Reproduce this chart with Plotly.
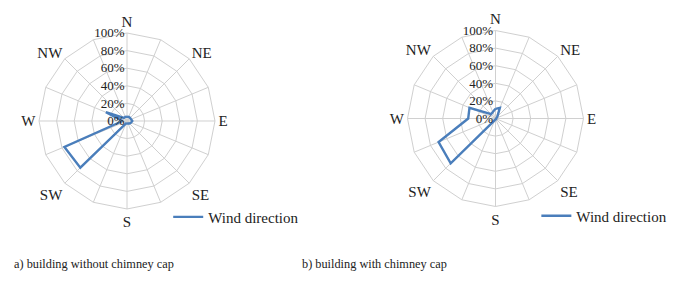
import plotly.graph_objects as go

directions = ["N", "NNE", "NE", "ENE", "E", "ESE", "SE", "SSE",
              "S", "SSW", "SW", "WSW", "W", "WNW", "NW", "NNW"]
tick_labels = ["N", "", "NE", "", "E", "", "SE", "",
               "S", "", "SW", "", "W", "", "NW", ""]
without_cap = [5, 5, 5, 5, 6, 5, 4, 3, 3, 3, 75, 77, 5, 26, 5, 5]
with_cap = [11, 13, 3, 1, 1, 1, 1, 1, 1, 2, 72, 70, 31, 32, 7, 8]
radial_ticks = [0, 20, 40, 60, 80, 100]
radial_labels = ["0%", "20%", "40%", "60%", "80%", "100%"]
captions = ["a) building without chimney cap", "b) building with chimney cap"]
series_name = "Wind direction"

FONT = "Liberation Serif, Times New Roman, serif"
LINE = "#4a7ebb"
GRID = "#d0d0d0"

fig = go.Figure()
for i, vals in enumerate([without_cap, with_cap]):
    fig.add_trace(go.Scatterpolar(
        r=vals + vals[:1], theta=directions + directions[:1],
        mode="lines", line=dict(color=LINE, width=2.4),
        name=series_name, subplot="polar" if i == 0 else "polar2",
        legend="legend" if i == 0 else "legend2",
    ))

def polar_layout(xd, yd):
    return dict(
        domain=dict(x=xd, y=yd),
        gridshape="linear",
        bgcolor="white",
        angularaxis=dict(
            type="category", categoryarray=directions,
            direction="clockwise", rotation=90,
            tickmode="array", tickvals=directions, ticktext=tick_labels,
            tickfont=dict(family=FONT, size=15, color="#222"),
            showline=True, linecolor=GRID, linewidth=1,
            gridcolor=GRID, gridwidth=1, ticks="", ticklen=0,
        ),
        radialaxis=dict(
            range=[0, 100], angle=90, side="counterclockwise",
            tickmode="array", tickvals=radial_ticks, ticktext=radial_labels,
            tickangle=90,
            tickfont=dict(family=FONT, size=13, color="#222"),
            showline=False, gridcolor=GRID, gridwidth=1, ticks="",
        ),
    )

fig.update_layout(
    width=681, height=285,
    margin=dict(l=0, r=0, t=0, b=0),
    paper_bgcolor="white", plot_bgcolor="white",
    polar=polar_layout([0.0573, 0.3157], [0.2667, 0.8842]),
    polar2=polar_layout([0.5984, 0.8568], [0.2754, 0.8930]),
    legend=dict(x=0.247, y=0.238, xanchor="left", yanchor="middle",
                font=dict(family=FONT, size=15, color="#222"),
                bgcolor="rgba(0,0,0,0)", itemwidth=30),
    legend2=dict(x=0.7876, y=0.242, xanchor="left", yanchor="middle",
                 font=dict(family=FONT, size=15, color="#222"),
                 bgcolor="rgba(0,0,0,0)", itemwidth=30),
    showlegend=True,
)

for txt, x in zip(captions, [0.018, 0.440]):
    fig.add_annotation(text=txt, x=x, y=0.072, xref="paper", yref="paper",
                       xanchor="left", yanchor="middle", showarrow=False,
                       font=dict(family=FONT, size=12.3, color="#222"))

fig.write_html("out.html", config={"displayModeBar": False},
               post_script="document.body.style.margin='0';")
